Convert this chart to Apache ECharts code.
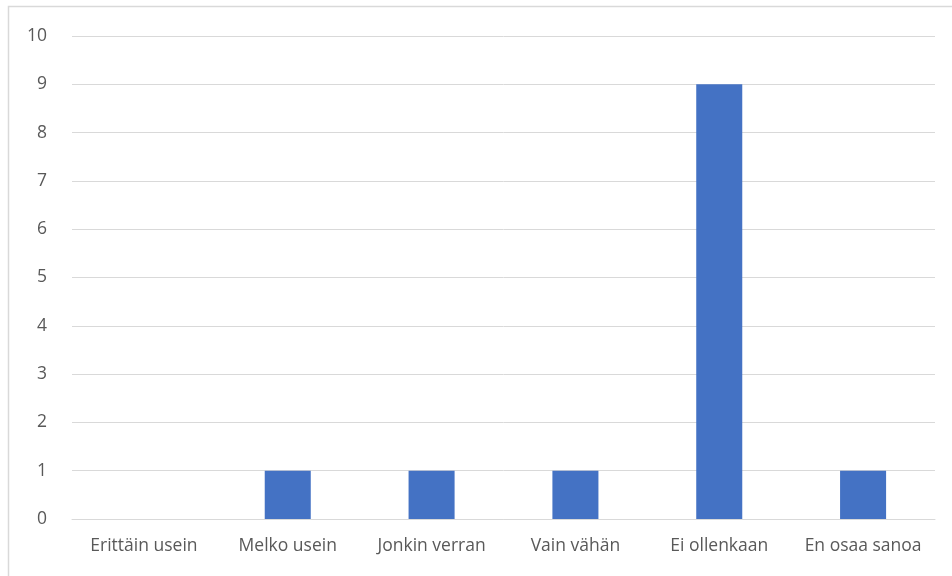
<!DOCTYPE html>
<html><head><meta charset="utf-8">
<script src="https://cdn.jsdelivr.net/npm/echarts@6/dist/echarts.min.js"></script>
<style>html,body{margin:0;padding:0;background:#fff}#c{width:952px;height:576px}</style>
</head><body><div id="c"></div>
<script>
const categories = ["Erittäin usein","Melko usein","Jonkin verran","Vain vähän","Ei ollenkaan","En osaa sanoa"];
const values = [0,1,1,1,9,1];
const chart = echarts.init(document.getElementById('c'), null, {renderer:'canvas'});
chart.setOption({
  animation:false,
  graphic:[{type:'rect',shape:{x:8.5,y:6.5,width:960,height:600},style:{fill:'none',stroke:'#d9d9d9',lineWidth:1.5},silent:true}],
  grid:{left:72,right:17,top:36,bottom:57},
  xAxis:{type:'category',data:categories,
    axisLine:{show:true,lineStyle:{color:'#d9d9d9',width:1}},axisTick:{show:false},
    axisLabel:{color:'#595959',fontSize:17.5,fontFamily:'Open Sans, sans-serif',margin:18,interval:0,hideOverlap:false}},
  yAxis:{type:'value',min:0,max:10,interval:1,
    axisLine:{show:false},axisTick:{show:false},
    splitLine:{lineStyle:{color:'#d9d9d9',width:1}},
    axisLabel:{color:'#595959',fontSize:17.5,fontFamily:'Open Sans, sans-serif',margin:25}},
  series:[{type:'bar',data:values,barWidth:'32%',itemStyle:{color:'#4472c4'}}]
});
</script></body></html>
